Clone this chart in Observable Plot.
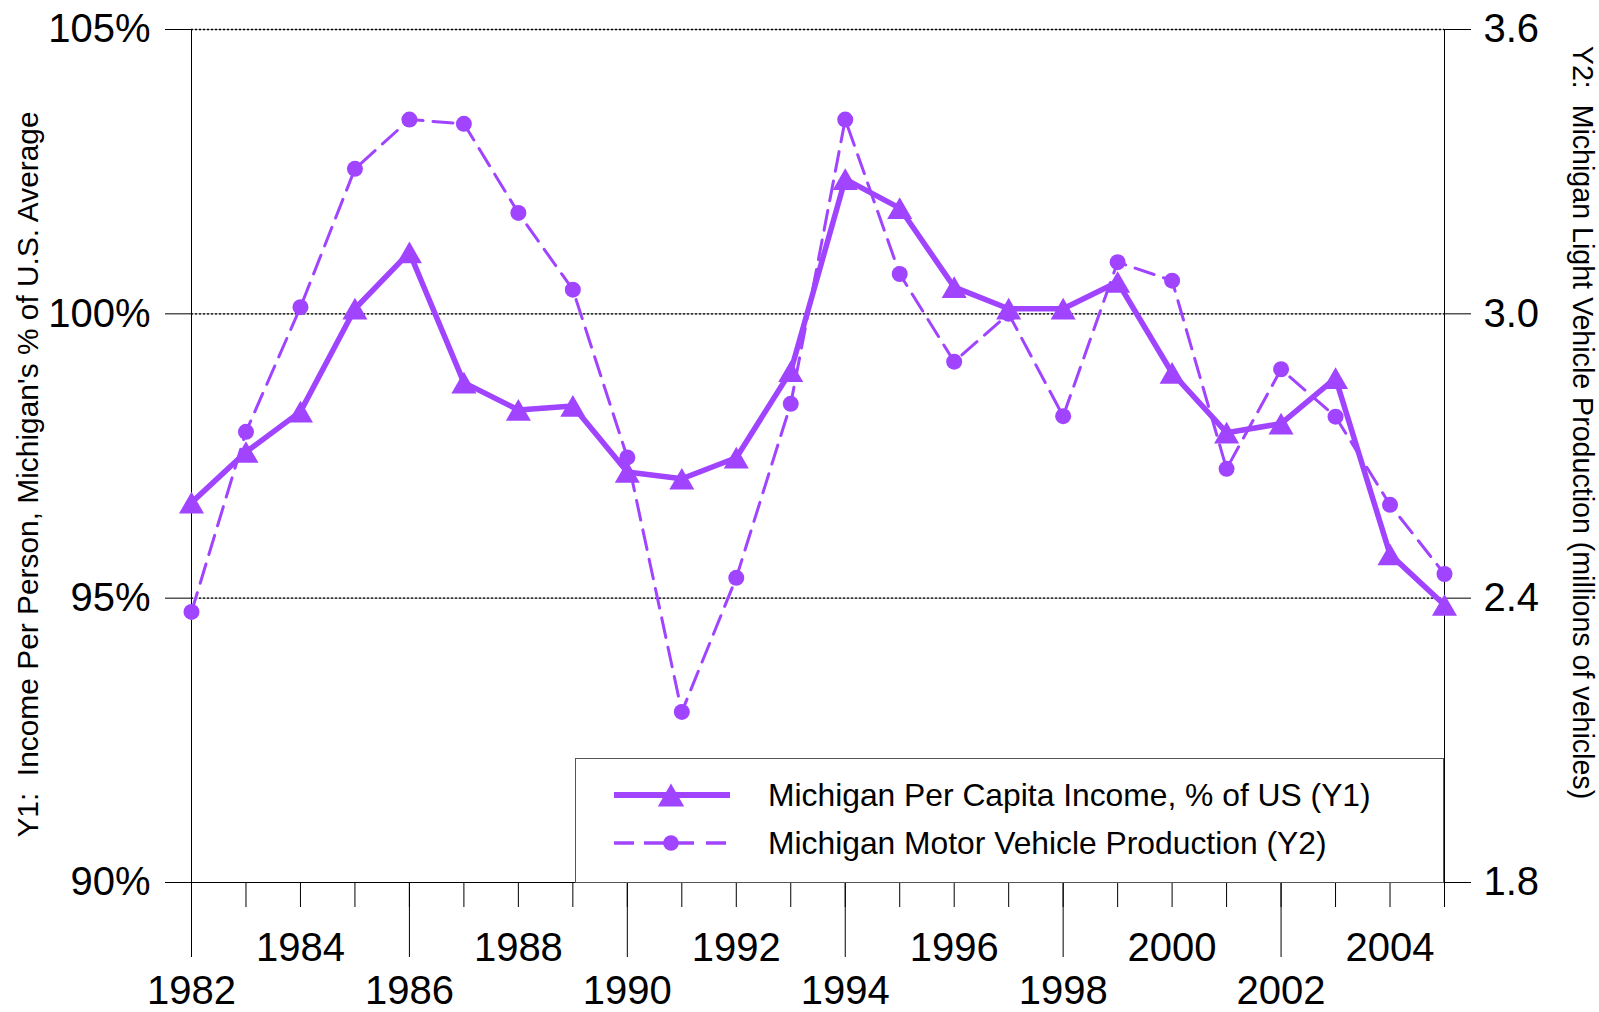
<!DOCTYPE html>
<html><head><meta charset="utf-8">
<script src="https://cdn.jsdelivr.net/npm/d3@7"></script>
<script src="https://cdn.jsdelivr.net/npm/@observablehq/plot@0.6"></script>
<style>
body{margin:0;background:#fff;}
#wrap{position:relative;width:1599px;height:1012px;overflow:hidden;font-family:"Liberation Sans",Arial,sans-serif;}
#legend{position:absolute;left:575px;top:758px;}
</style></head><body><div id="wrap"></div>
<script>
// ---- data ----
const years = [1982,1983,1984,1985,1986,1987,1988,1989,1990,1991,1992,1993,1994,1995,1996,1997,1998,1999,2000,2001,2002,2003,2004,2005];
const incomePct = [96.68,97.57,98.28,100.09,101.08,98.79,98.31,98.38,97.22,97.10,97.47,98.99,102.37,101.86,100.47,100.09,100.09,100.56,98.96,97.91,98.07,98.87,95.77,94.88];
const vehicleProd = [2.371,2.751,3.014,3.306,3.410,3.401,3.213,3.051,2.697,2.160,2.443,2.810,3.410,3.084,2.899,3.000,2.784,3.109,3.070,2.673,2.883,2.783,2.597,2.451];
const leftTicks = [90,95,100,105];
const rightTicks = [1.8,2.4,3.0,3.6];
const gridPct = [95,100,105];
const upperLabelYears = [1984,1988,1992,1996,2000,2004];
const lowerLabelYears = [1982,1986,1990,1994,1998,2002];
const seriesNames = ["Michigan Per Capita Income, % of US (Y1)","Michigan Motor Vehicle Production (Y2)"];
const y1Title = "Y1:  Income Per Person, Michigan's % of U.S. Average";
const y2Title = "Y2:  Michigan Light Vehicle Production (millions of vehicles)";

const purple = "#A044FF";
const font = '"Liberation Sans", Arial, sans-serif';
const y1Domain = [90,105], y2Domain = [1.8,3.6];
const toY1 = v => y1Domain[0] + (v - y2Domain[0]) / (y2Domain[1]-y2Domain[0]) * (y1Domain[1]-y1Domain[0]);
const fromY1 = v => y2Domain[0] + (v - y1Domain[0]) / (y1Domain[1]-y1Domain[0]) * (y2Domain[1]-y2Domain[0]);
const rows = years.map((year,i)=>({year, income: incomePct[i], vehicles: vehicleProd[i]}));

const chart = Plot.plot({
  width:1599, height:1012,
  marginLeft:191, marginRight:155, marginTop:29, marginBottom:130,
  style:{fontFamily:font, fontSize:"40px", color:"#000", background:"#fff", overflow:"visible"},
  x:{domain:[1982,2005], axis:null},
  y:{domain:y1Domain, axis:null},
  marks:[
    Plot.ruleY(gridPct, {stroke:"#999", strokeWidth:1}),
    Plot.ruleY(gridPct, {stroke:"#000", strokeWidth:1.3, strokeDasharray:"2,2"}),
    Plot.ruleY([90], {stroke:"#000", strokeWidth:1}),
    Plot.ruleX([1982,2005], {stroke:"#000", strokeWidth:1}),
    Plot.axisY({anchor:"left", ticks:leftTicks, tickSize:26, tickPadding:15, tickFormat:d=>d+"%", label:null, fontSize:40}),
    Plot.axisY({anchor:"right", ticks:rightTicks.map(toY1), tickSize:26, tickPadding:13, tickFormat:d=>fromY1(d).toFixed(1), label:null, fontSize:40}),
    Plot.axisX({ticks:years, tickSize:25, tickFormat:()=>"", label:null}),
    Plot.axisX({ticks:lowerLabelYears, tickSize:75, tickFormat:()=>"", label:null}),
    Plot.axisX({ticks:upperLabelYears, tickSize:0, tickPadding:50, tickFormat:d=>String(d), label:null, fontSize:40}),
    Plot.axisX({ticks:lowerLabelYears, tickSize:0, tickPadding:93, tickFormat:d=>String(d), label:null, fontSize:40}),
    Plot.text([y1Title], {text:d=>d, frameAnchor:"left", textAnchor:"middle", lineAnchor:"middle", rotate:-90, dx:-163, dy:18.5, fontSize:29.9, fill:"#000"}),
    Plot.text([y2Title], {text:d=>d, frameAnchor:"right", textAnchor:"middle", lineAnchor:"middle", rotate:90, dx:138, dy:-33.5, fontSize:28.6, fill:"#000"}),
    Plot.line(rows, {x:"year", y:d=>toY1(d.vehicles), stroke:purple, strokeWidth:3, strokeDasharray:"20,10"}),
    Plot.dot(rows, {x:"year", y:d=>toY1(d.vehicles), r:8, fill:purple, stroke:null}),
    Plot.line(rows, {x:"year", y:"income", stroke:purple, strokeWidth:5.5}),
    Plot.dot(rows, {x:"year", y:"income", symbol:"triangle", r:9.3, fill:purple, stroke:null, dy:3.6})
  ]
});
const wrap = document.getElementById("wrap");
wrap.appendChild(chart);

// ---- legend (overlay) ----
const W = 869, H = 125;
const lg = d3.select(wrap).append("svg").attr("id","legend").attr("width",W).attr("height",H);
lg.append("rect").attr("x",0.5).attr("y",0.5).attr("width",W-1).attr("height",H-1).attr("fill","#fff").attr("stroke","#555").attr("stroke-width",1);
const rowY = [37,85];
lg.append("line").attr("x1",39).attr("x2",155).attr("y1",rowY[0]).attr("y2",rowY[0]).attr("stroke",purple).attr("stroke-width",6);
lg.append("path").attr("d", d3.symbol(d3.symbolTriangle, 300)()).attr("transform",`translate(96,${rowY[0]+3.8})`).attr("fill",purple);
lg.append("line").attr("x1",39).attr("x2",151).attr("y1",rowY[1]).attr("y2",rowY[1]).attr("stroke",purple).attr("stroke-width",3.3).attr("stroke-dasharray","20,10,50,12,20,100");
lg.append("circle").attr("cx",96).attr("cy",rowY[1]).attr("r",7.8).attr("fill",purple);
seriesNames.forEach((name,i)=>{
  lg.append("text").attr("x",193).attr("y",rowY[i]).attr("dy","0.35em").attr("font-family",font).attr("font-size",31.8).attr("fill","#000").text(name);
});
</script></body></html>
